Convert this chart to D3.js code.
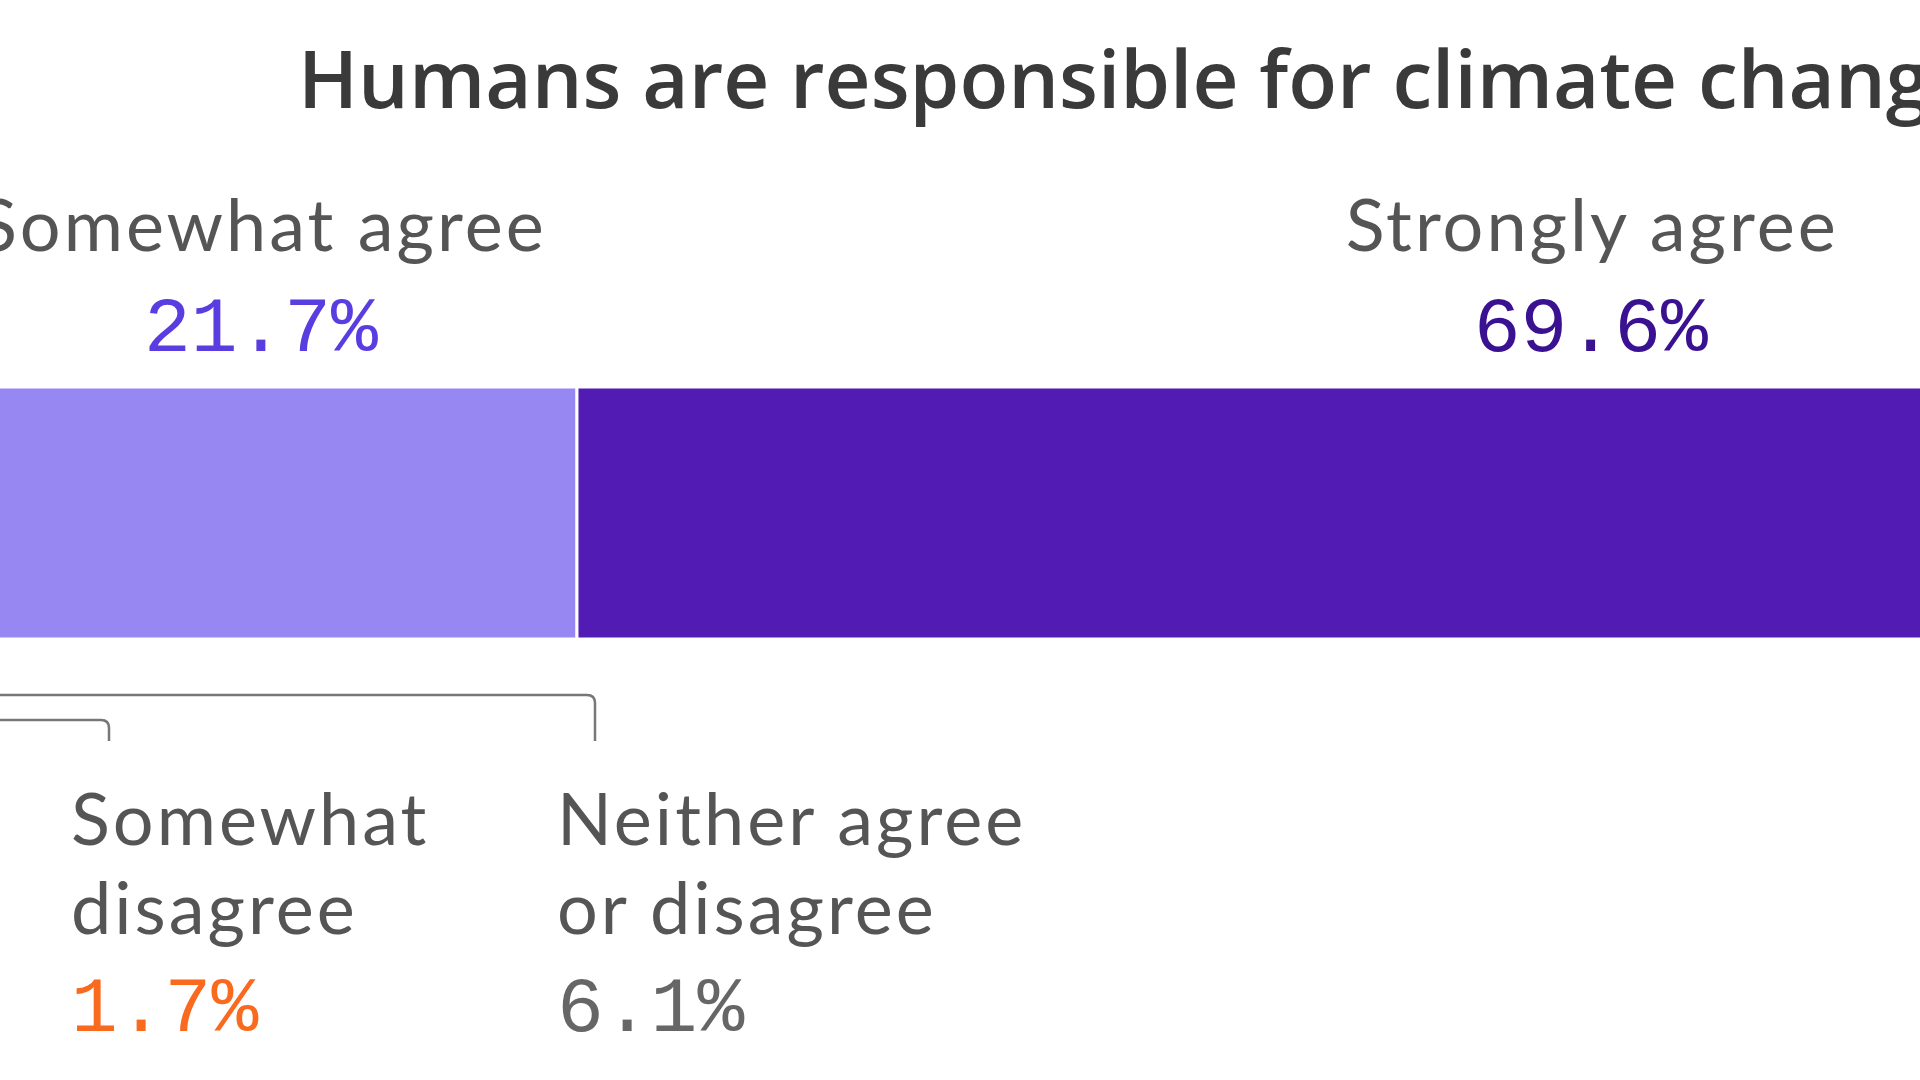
<!DOCTYPE html>
<html>
<head>
  <title>Humans are responsible for climate change</title>
  <style>
    body {
      margin: 0;
      background-color: white;
      overflow: hidden;
    }
  </style>
</head>
<body>

  <div id="chart-container">
    <svg width="1920" height="1080"></svg>
  </div>

  <script src="https://d3js.org/d3.v7.min.js"></script>
  <script>
    const categories = ["Strongly disagree", "Somewhat disagree", "Neither agree or disagree", "Somewhat agree", "Strongly agree"];
    const values = [0.9, 1.7, 6.1, 21.7, 69.6];
    const valueLabels = ["0.9%", "1.7%", "6.1%", "21.7%", "69.6%"];
    const barColors = ["#e0450c", "#fa8a4a", "#cfcfcf", "#9787f3", "#521bb3"];
    const valueColors = ["#e0450c", "#fa6a1e", "#666666", "#5a3de0", "#3a1190"];

    const width = 1920;
    const height = 1080;
    const title = "Humans are responsible for climate change";

    // the picture is a zoomed-in crop, so the bar runs past both edges
    const xScale = d3.scaleLinear().domain([0, 100]).range([-308.6, 2604.5]);
    const barTop = 387;
    const barBottom = 639;
    const labelFont = "Lato, sans-serif";
    const monoFont = "'Liberation Mono', monospace";

    const stacked = [];
    let acc = 0;
    values.forEach((v, i) => {
      stacked.push({ cat: categories[i], value: v, label: valueLabels[i], start: acc, end: acc + v, i: i });
      acc += v;
    });

    const svg = d3.select("#chart-container svg");

    svg.append("text")
      .attr("x", 298)
      .attr("y", 108)
      .attr("font-family", "'Open Sans', sans-serif")
      .attr("font-weight", 600)
      .attr("font-size", 80)
      .attr("fill", "#3a3a3a")
      .text(title);

    svg.selectAll("rect.seg")
      .data(stacked)
      .enter()
      .append("rect")
      .attr("class", "seg")
      .attr("x", d => xScale(d.start))
      .attr("y", barTop)
      .attr("width", d => xScale(d.end) - xScale(d.start))
      .attr("height", barBottom - barTop)
      .attr("fill", d => barColors[d.i])
      .attr("stroke", "white")
      .attr("stroke-width", 3);

    // big segments: labels above the bar
    const bigSegs = stacked.filter(d => d.value > 10);
    svg.selectAll("text.cat-top")
      .data(bigSegs)
      .enter()
      .append("text")
      .attr("x", d => xScale((d.start + d.end) / 2) + 1.5)
      .attr("y", 251)
      .attr("text-anchor", "middle")
      .attr("font-family", labelFont)
      .attr("font-size", 72)
      .attr("letter-spacing", 3)
      .attr("fill", "#555")
      .text(d => d.cat);

    svg.selectAll("text.val-top")
      .data(bigSegs)
      .enter()
      .append("text")
      .attr("x", d => xScale((d.start + d.end) / 2))
      .attr("y", 351)
      .attr("text-anchor", "middle")
      .attr("font-family", monoFont)
      .attr("font-size", 78)
      .attr("fill", d => valueColors[d.i])
      .text(d => d.label);

    // small segments: bracket lines down to labels below the bar
    const below = [
      { i: 0, labelX: -330, lineY: 745 },
      { i: 1, labelX: 71, lineY: 720 },
      { i: 2, labelX: 557, lineY: 695 }
    ];
    const r = 8;
    const tipY = 741;

    below.forEach(b => {
      const d = stacked[b.i];
      const cx = xScale((d.start + d.end) / 2);
      const vx = b.labelX + 38;
      svg.append("path")
        .attr("d", `M${cx},${barBottom + 6} V${b.lineY - r} Q${cx},${b.lineY} ${cx + r},${b.lineY} H${vx - r} Q${vx},${b.lineY} ${vx},${b.lineY + r} V${tipY}`)
        .attr("fill", "none")
        .attr("stroke", "#777")
        .attr("stroke-width", 2.5);

      const words = d.cat.split(" ");
      const lines = words.length > 2 ? [words.slice(0, 2).join(" "), words.slice(2).join(" ")] : words;
      lines.forEach((ln, k) => {
        svg.append("text")
          .attr("x", b.labelX)
          .attr("y", 845 + k * 89)
          .attr("font-family", labelFont)
          .attr("font-size", 72)
          .attr("letter-spacing", 3)
          .attr("fill", "#555")
          .text(ln);
      });

      svg.append("text")
        .attr("x", b.labelX)
        .attr("y", 845 + lines.length * 93)
        .attr("font-family", monoFont)
        .attr("font-size", 78)
        .attr("fill", valueColors[b.i])
        .text(d.label);
    });
  </script>
</body>
</html>
